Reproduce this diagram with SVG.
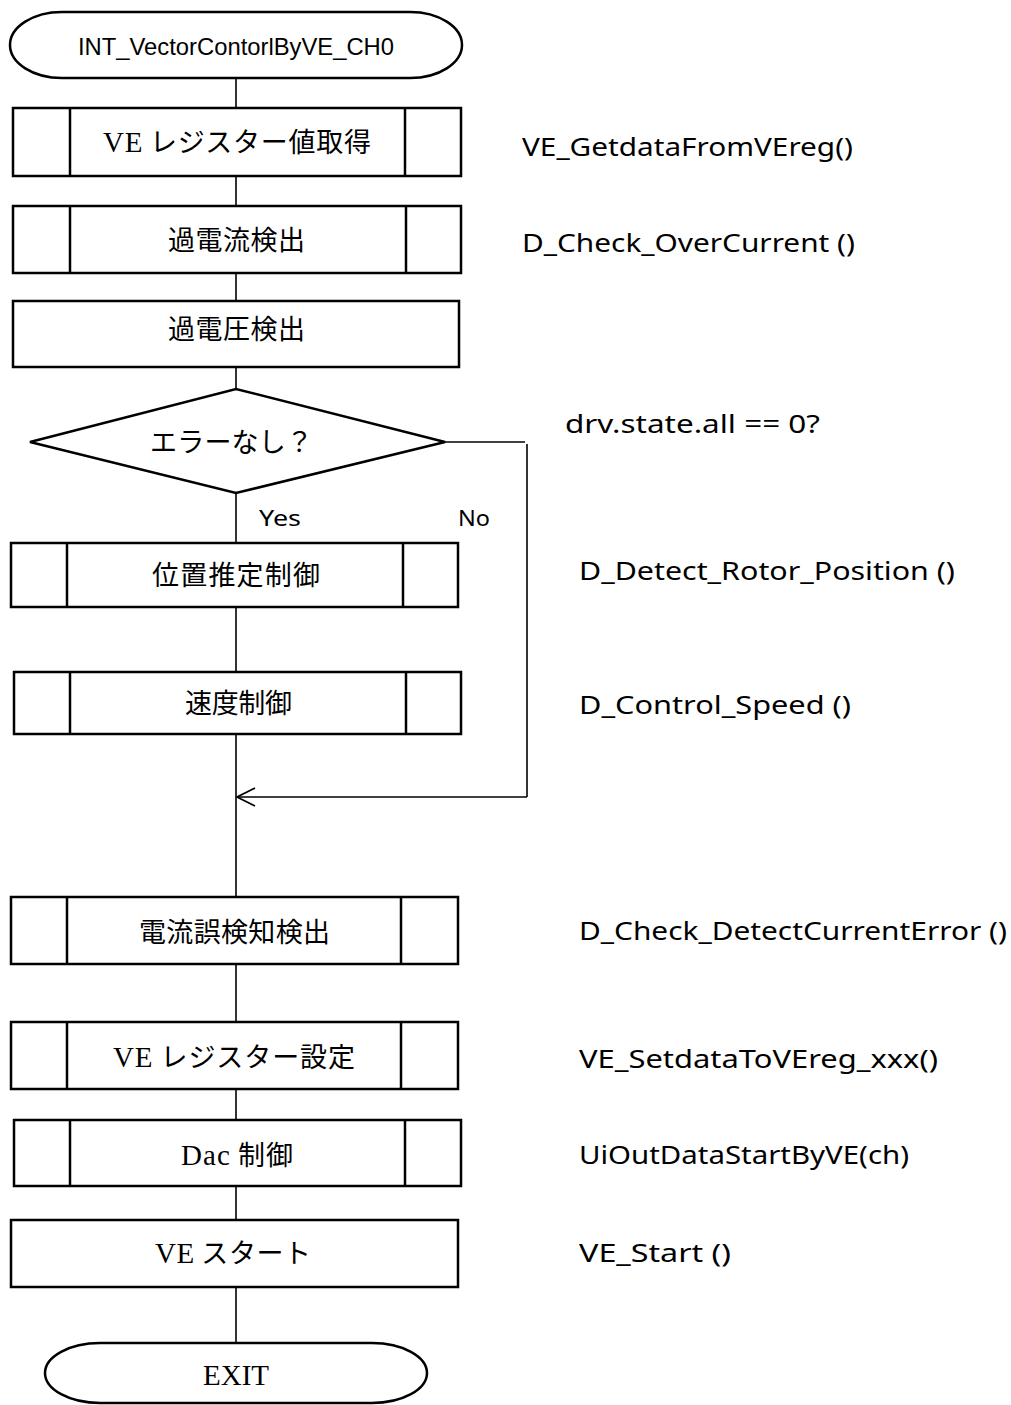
<svg xmlns="http://www.w3.org/2000/svg" width="1011" height="1405" viewBox="0 0 1011 1405">
<style>
.box{fill:#fff;stroke:#000;stroke-width:2.5}
.ln{fill:none;stroke:#000;stroke-width:1.6}
.jp{font-family:"Noto Sans CJK JP","Liberation Sans",sans-serif;font-size:27px;fill:#000}
.se{font-family:"Liberation Serif",serif;font-size:29px}
.r{font-family:"Noto Sans","Open Sans",sans-serif;font-size:25px;fill:#000}
.a{font-family:"Liberation Sans",sans-serif;font-size:24px;fill:#000}
.yn{font-family:"Noto Sans","Open Sans",sans-serif;font-size:22px;fill:#000}
</style>
<defs>
<marker id="open" viewBox="0 0 20 20" refX="19" refY="10" markerWidth="20" markerHeight="20" markerUnits="userSpaceOnUse" orient="auto">
<path d="M1,1 L19,10 L1,19" fill="none" stroke="#000" stroke-width="1.8"/>
</marker>
</defs>
<g id="connectors">
<line class="ln" x1="236" y1="78" x2="236" y2="108"/>
<line class="ln" x1="236" y1="176" x2="236" y2="206"/>
<line class="ln" x1="236" y1="273" x2="236" y2="301"/>
<line class="ln" x1="236" y1="367" x2="236" y2="389"/>
<line class="ln" x1="236" y1="493" x2="236" y2="543"/>
<line class="ln" x1="236" y1="607" x2="236" y2="672"/>
<line class="ln" x1="236" y1="734" x2="236" y2="897"/>
<line class="ln" x1="236" y1="964" x2="236" y2="1022"/>
<line class="ln" x1="236" y1="1089" x2="236" y2="1120"/>
<line class="ln" x1="236" y1="1186" x2="236" y2="1220"/>
<line class="ln" x1="236" y1="1287" x2="236" y2="1343"/>
<line class="ln" x1="445" y1="442" x2="525" y2="442" stroke-width="2"/>
<line class="ln" x1="527" y1="444" x2="527" y2="797" stroke-width="2"/>
<line class="ln" x1="527" y1="797" x2="237" y2="797" stroke-width="2" marker-end="url(#open)"/>
<text class="yn" x="259" y="526" textLength="42" lengthAdjust="spacingAndGlyphs">Yes</text>
<text class="yn" x="458" y="526" textLength="32" lengthAdjust="spacingAndGlyphs">No</text>
</g>
<g id="start">
<rect class="box" x="10" y="12" width="452" height="66" rx="52" ry="33"/>
<text class="a" x="236" y="55" text-anchor="middle" textLength="316" lengthAdjust="spacingAndGlyphs">INT_VectorContorlByVE_CH0</text>
</g>
<g id="n1">
<rect class="box" x="13" y="108" width="448" height="68"/>
<line class="box" x1="70" y1="108" x2="70" y2="176"/><line class="box" x1="405" y1="108" x2="405" y2="176"/>
<text class="jp" x="103" y="152" textLength="268" lengthAdjust="spacing"><tspan class="se">VE</tspan> レジスター値取得</text>
<text class="r" x="522" y="156" textLength="331" lengthAdjust="spacingAndGlyphs">VE_GetdataFromVEreg()</text>
</g>
<g id="n2">
<rect class="box" x="13" y="206" width="448" height="67"/>
<line class="box" x1="70" y1="206" x2="70" y2="273"/><line class="box" x1="406" y1="206" x2="406" y2="273"/>
<text class="jp" x="168" y="250" textLength="137" lengthAdjust="spacing">過電流検出</text>
<text class="r" x="522" y="252" textLength="333" lengthAdjust="spacingAndGlyphs">D_Check_OverCurrent ()</text>
</g>
<g id="n3">
<rect class="box" x="13" y="301" width="446" height="66"/>
<text class="jp" x="168" y="339" textLength="137" lengthAdjust="spacing">過電圧検出</text>
</g>
<g id="n4">
<polygon class="box" points="30,442 236,389 445,442 236,493"/>
<text class="jp" x="150" y="452" textLength="163" lengthAdjust="spacing">エラーなし？</text>
<text class="r" x="565" y="433" textLength="255" lengthAdjust="spacingAndGlyphs">drv.state.all == 0?</text>
</g>
<g id="n5">
<rect class="box" x="11" y="543" width="447" height="64"/>
<line class="box" x1="67" y1="543" x2="67" y2="607"/><line class="box" x1="403" y1="543" x2="403" y2="607"/>
<text class="jp" x="152" y="585" textLength="168" lengthAdjust="spacing">位置推定制御</text>
<text class="r" x="579" y="580" textLength="376" lengthAdjust="spacingAndGlyphs">D_Detect_Rotor_Position ()</text>
</g>
<g id="n6">
<rect class="box" x="14" y="672" width="447" height="62"/>
<line class="box" x1="70" y1="672" x2="70" y2="734"/><line class="box" x1="406" y1="672" x2="406" y2="734"/>
<text class="jp" x="185" y="713" textLength="107" lengthAdjust="spacing">速度制御</text>
<text class="r" x="579" y="714" textLength="272" lengthAdjust="spacingAndGlyphs">D_Control_Speed ()</text>
</g>
<g id="n7">
<rect class="box" x="11" y="897" width="447" height="67"/>
<line class="box" x1="67" y1="897" x2="67" y2="964"/><line class="box" x1="401" y1="897" x2="401" y2="964"/>
<text class="jp" x="139" y="942" textLength="191" lengthAdjust="spacing">電流誤検知検出</text>
<text class="r" x="579" y="940" textLength="428" lengthAdjust="spacingAndGlyphs">D_Check_DetectCurrentError ()</text>
</g>
<g id="n8">
<rect class="box" x="11" y="1022" width="447" height="67"/>
<line class="box" x1="67" y1="1022" x2="67" y2="1089"/><line class="box" x1="401" y1="1022" x2="401" y2="1089"/>
<text class="jp" x="113" y="1067" textLength="242" lengthAdjust="spacing"><tspan class="se">VE</tspan> レジスター設定</text>
<text class="r" x="579" y="1068" textLength="359" lengthAdjust="spacingAndGlyphs">VE_SetdataToVEreg_xxx()</text>
</g>
<g id="n9">
<rect class="box" x="14" y="1120" width="447" height="66"/>
<line class="box" x1="70" y1="1120" x2="70" y2="1186"/><line class="box" x1="405" y1="1120" x2="405" y2="1186"/>
<text class="jp" x="181" y="1165" textLength="112" lengthAdjust="spacing"><tspan class="se">Dac</tspan> 制御</text>
<text class="r" x="579" y="1164" textLength="330" lengthAdjust="spacingAndGlyphs">UiOutDataStartByVE(ch)</text>
</g>
<g id="n10">
<rect class="box" x="11" y="1220" width="447" height="67"/>
<text class="jp" x="155" y="1263" textLength="156" lengthAdjust="spacing"><tspan class="se">VE</tspan> スタート</text>
<text class="r" x="579" y="1262" textLength="152" lengthAdjust="spacingAndGlyphs">VE_Start ()</text>
</g>
<g id="end">
<rect class="box" x="45" y="1343" width="382" height="60" rx="55" ry="30"/>
<text class="jp se" x="236" y="1385" text-anchor="middle">EXIT</text>
</g>
</svg>
